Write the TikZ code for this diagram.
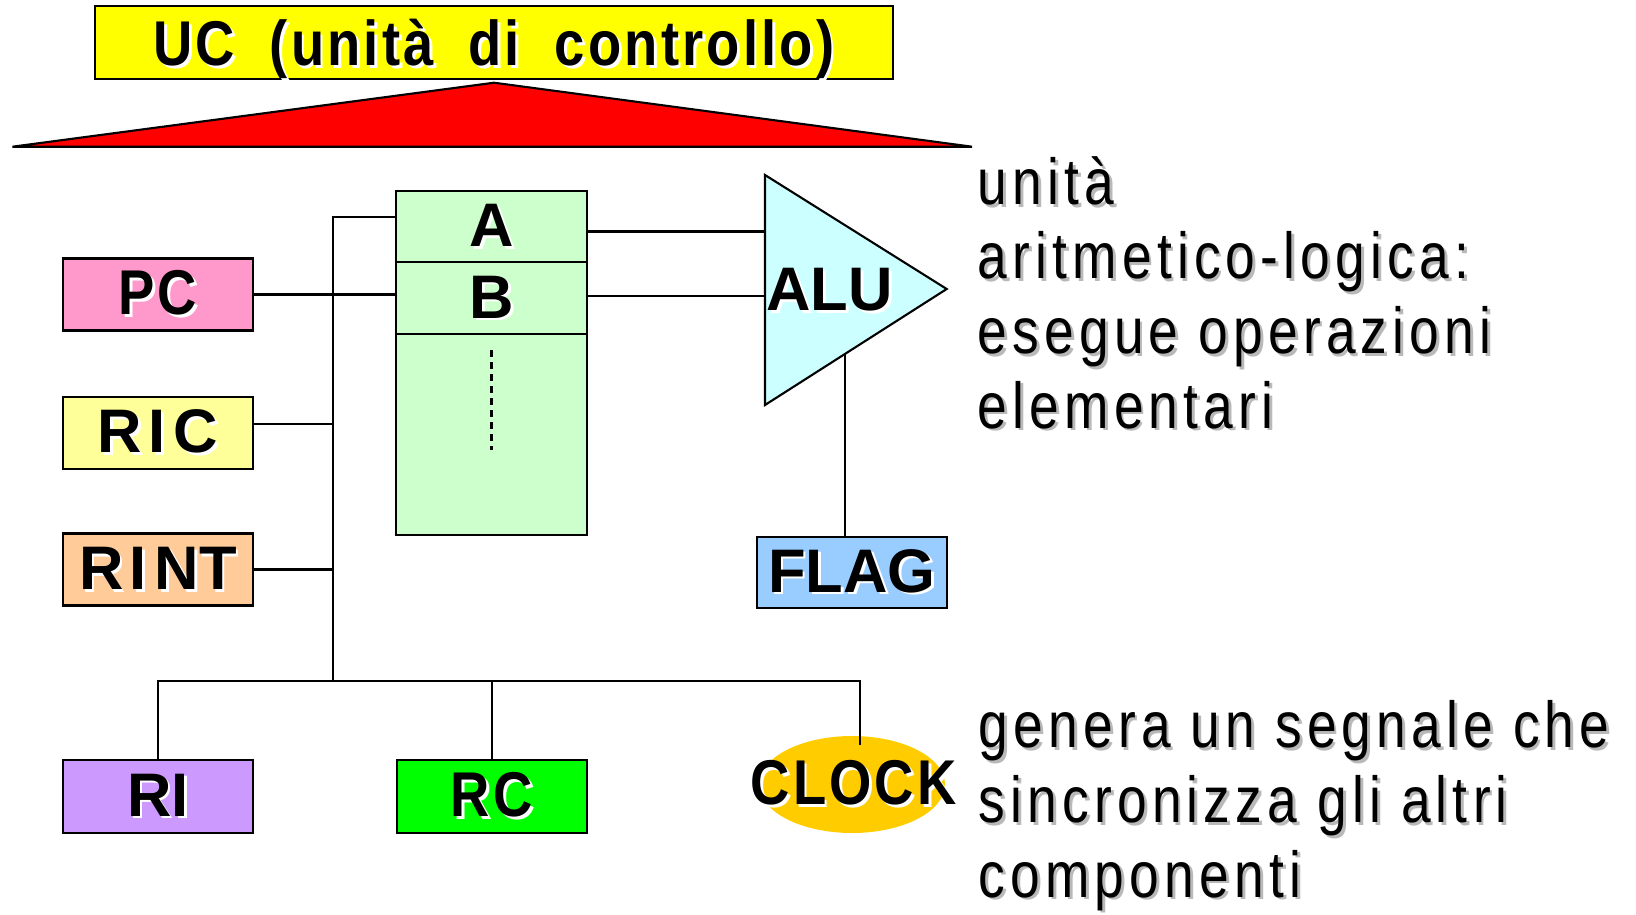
\documentclass[tikz,border=0pt]{standalone}
\usepackage{fontspec}
\setmainfont{Liberation Sans}
\newfontfamily\narrowbold[FakeStretch=0.86,LetterSpace=5,WordSpace=1.9]{Liberation Sans Bold}
\newfontfamily\plainbold{Liberation Sans Bold}
\newfontfamily\narrowtext[FakeStretch=0.82,LetterSpace=8]{Liberation Sans}
\usetikzlibrary{shapes.geometric,calc}
\definecolor{ucyellow}{HTML}{FFFF00}
\definecolor{regfill}{HTML}{CCFFCC}
\definecolor{pcfill}{HTML}{FF99CC}
\definecolor{ricfill}{HTML}{FFFF99}
\definecolor{rintfill}{HTML}{FFCC99}
\definecolor{alufill}{HTML}{CCFFFF}
\definecolor{flagfill}{HTML}{99CCFF}
\definecolor{rifill}{HTML}{CC99FF}
\definecolor{rcfill}{HTML}{00FF00}
\definecolor{clockfill}{HTML}{FFCC00}
\newcommand\shtxt[2]{\rlap{\kern0.8pt\raisebox{-0.8pt}{\color{#1}#2}}#2}
\newcommand\wideI{\kern0.06cm I\kern0.08cm}

\begin{document}
\begin{tikzpicture}[
    box/.style={draw, line width=0.6pt, minimum width=1.9cm, minimum height=0.72cm, inner sep=0pt},
    lbl/.style={font=\narrowbold\fontsize{18}{20}\selectfont},
    bigl/.style={font=\plainbold\fontsize{17.5}{20}\selectfont},
    wire/.style={line width=0.6pt},
    desc/.style={anchor=base west, align=left, inner sep=0pt, font=\narrowtext\fontsize{18.5}{21.2}\selectfont}
  ]
    \useasboundingbox (0,0) rectangle (16.36,-9.15);
    \node[box, lbl, fill=ucyellow, minimum width=7.975cm, minimum height=0.727cm, text depth=0pt] (uc) at (4.938,-0.424) {\shtxt{white}{UC (unità di controllo)}};
    \filldraw[fill=red, line width=0.6pt] (0.125,-1.467) -- (4.94,-0.827) -- (9.72,-1.467) -- cycle;

    \node[box, bigl, fill=regfill, minimum width=1.906cm, minimum height=0.716cm] (regA) at (4.917,-2.265) {\shtxt{white}{A}};
    \node[box, bigl, fill=regfill, minimum width=1.906cm, minimum height=0.72cm] (regB) at (4.917,-2.983) {\shtxt{white}{B}};
    \node[box, fill=regfill, minimum width=1.906cm, minimum height=2.007cm] (regRest) at (4.917,-4.347) {};
    \draw[line width=1pt, dash pattern=on 0.07cm off 0.05cm] ([yshift=-0.17cm]regRest.north) -- ([yshift=-1.17cm]regRest.north);

    \node[box, lbl, fill=pcfill] (pc) at (1.579,-2.945) {\shtxt{white}{PC}};
    \node[box, bigl, fill=ricfill] (ric) at (1.579,-4.33) {\shtxt{white}{R\wideI C}};
    \node[box, bigl, fill=rintfill] (rint) at (1.579,-5.695) {\shtxt{white}{R\wideI NT}};
    \node[box, bigl, fill=rifill, minimum height=0.727cm] (ri) at (1.578,-7.964) {\shtxt{white}{RI}};
    \node[box, lbl, fill=rcfill, minimum height=0.727cm] (rc) at (4.917,-7.964) {\shtxt{white}{RC}};
    \node[ellipse, fill=clockfill, minimum width=1.86cm, minimum height=0.97cm, inner sep=0pt] (clock) at (8.52,-7.845) {};
    \node[lbl] (clocktxt) at (8.536,-7.845) {\shtxt{white}{CLOCK}};

    \coordinate (aluTop) at (7.65,-1.75);
    \coordinate (aluBot) at (7.65,-4.05);
    \coordinate (aluTip) at (9.467,-2.89);
    \filldraw[fill=alufill, line width=0.6pt] (aluTop) -- (aluTip) -- (aluBot) -- cycle;
    \node[bigl] (alu) at (8.295,-2.915) {\shtxt{white}{ALU}};
    \coordinate (aluOut) at ($(aluBot)!0.44!(aluTip)$);
    \node[box, bigl, fill=flagfill, minimum width=1.903cm, minimum height=0.713cm] (flag) at (8.518,-5.724) {\shtxt{white}{FLAG}};

    \coordinate (busTop) at (3.329,-2.167);
    \coordinate (busBot) at (3.329,-6.807);
    \coordinate (clkTap) at (8.60,-6.807);
    \coordinate (clkEnd) at (8.60,-7.45);
    \draw[wire] (busTop -| regA.west) -- (busTop) -- (busBot);
    \draw[wire] (pc.east) -- (pc.east -| regB.west);
    \draw[wire] ([yshift=0.09cm]ric.east) -- ([yshift=0.09cm]ric.east -| busTop);
    \draw[wire] (rint.east) -- (rint.east -| busTop);
    \draw[wire] (ri.north) |- (clkTap) -- (clkEnd);
    \draw[wire] (rc.north) -- (rc.north |- busBot);
    \draw[wire] ([yshift=-0.05cm]regA.east) -- ([yshift=-0.05cm]regA.east -| aluTop);
    \draw[wire] ([yshift=0.02cm]regB.east) -- ([yshift=0.02cm]regB.east -| aluTop);
    \draw[wire] (aluOut) -- (aluOut |- flag.north);

    \node[desc] (aludesc) at (9.77,-4.28) {\shtxt{gray!55}{unità}\\\shtxt{gray!55}{aritmetico-logica:}\\\shtxt{gray!55}{esegue operazioni}\\\shtxt{gray!55}{elementari}};
    \node[desc] (clkdesc) at (9.78,-8.97) {\shtxt{gray!55}{genera un segnale che}\\\shtxt{gray!55}{sincronizza gli altri}\\\shtxt{gray!55}{componenti}};
\end{tikzpicture}
\end{document}
